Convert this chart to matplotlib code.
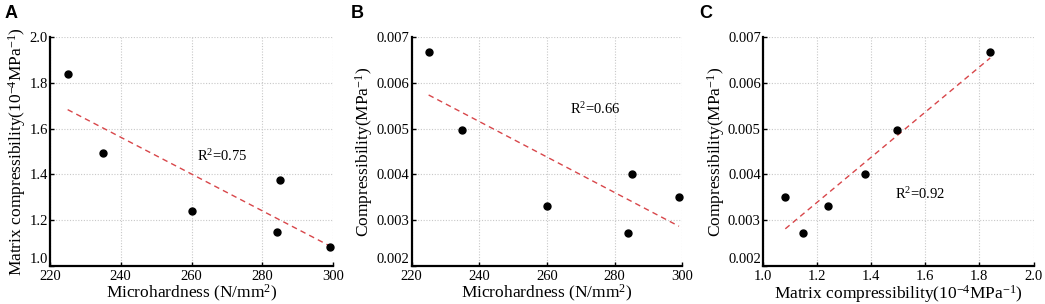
import numpy as np
import matplotlib
matplotlib.use("Agg")
import matplotlib.pyplot as plt

plt.rcParams['font.family'] = ['Liberation Serif', 'DejaVu Serif']
plt.rcParams['mathtext.fontset'] = 'custom'
plt.rcParams['mathtext.rm'] = 'Liberation Serif'
plt.rcParams['mathtext.it'] = 'Liberation Serif:italic'
plt.rcParams['mathtext.bf'] = 'Liberation Serif:bold'

microhardness = [225, 235, 260, 284, 285, 299]
matrix_comp = [1.84, 1.495, 1.24, 1.15, 1.377, 1.083]
compressibility = [0.00667, 0.00496, 0.00330, 0.00273, 0.00402, 0.00351]

panels = [
    dict(label="A", x=microhardness, y=matrix_comp,
         xlim=(220, 300), xticks=[220, 240, 260, 280, 300], xfmt="{:.0f}",
         ylim=(1.0, 2.0), yticks=[1.0, 1.2, 1.4, 1.6, 1.8, 2.0], yfmt="{:.1f}",
         xlabel="Microhardness (N/mm$^{2}$)",
         ylabel="Matrix compressibility(10$^{-4}$MPa$^{-1}$)",
         r2="R$^{2}$=0.75", r2pos=(261.4, 1.48),
         rect=[0.0478, 0.125, 0.271, 0.753], lx=0.004),
    dict(label="B", x=microhardness, y=compressibility,
         xlim=(220, 300), xticks=[220, 240, 260, 280, 300], xfmt="{:.0f}",
         ylim=(0.002, 0.007), yticks=[0.002, 0.003, 0.004, 0.005, 0.006, 0.007], yfmt="{:.3f}",
         xlabel="Microhardness (N/mm$^{2}$)",
         ylabel="Compressibility(MPa$^{-1}$)",
         r2="R$^{2}$=0.66", r2pos=(266.8, 0.00543),
         rect=[0.394, 0.125, 0.259, 0.753], lx=0.336),
    dict(label="C", x=matrix_comp, y=compressibility,
         xlim=(1.0, 2.0), xticks=[1.0, 1.2, 1.4, 1.6, 1.8, 2.0], xfmt="{:.1f}",
         ylim=(0.002, 0.007), yticks=[0.002, 0.003, 0.004, 0.005, 0.006, 0.007], yfmt="{:.3f}",
         xlabel="Matrix compressibility(10$^{-4}$MPa$^{-1}$)",
         ylabel="Compressibility(MPa$^{-1}$)",
         r2="R$^{2}$=0.92", r2pos=(1.487, 0.00357),
         rect=[0.730, 0.125, 0.259, 0.753], lx=0.669),
]

fig = plt.figure(figsize=(10.45, 3.04), dpi=100)

for p in panels:
    ax = fig.add_axes(p["rect"])
    x = np.array(p["x"]); y = np.array(p["y"])
    ax.set_xlim(*p["xlim"]); ax.set_ylim(*p["ylim"])
    ax.set_xticks(p["xticks"]); ax.set_yticks(p["yticks"])
    ax.set_xticklabels([p["xfmt"].format(v) for v in p["xticks"]])
    ax.set_yticklabels([p["yfmt"].format(v) for v in p["yticks"]])
    ax.grid(True, color='#c8c8c8', linestyle=(0, (1, 1.5)), linewidth=0.8)
    ax.set_axisbelow(True)
    for s in ['top', 'right']:
        ax.spines[s].set_visible(False)
    for s in ['left', 'bottom']:
        ax.spines[s].set_linewidth(1.6)
    ax.tick_params(direction='in', length=3, width=1, labelsize=10.5)
    ax.tick_params(axis='y', pad=1.5)
    ax.tick_params(axis='x', pad=3)
    # lift the lowest y tick label slightly so it clears the corner x label
    ax.get_yticklabels()[0].set_verticalalignment('bottom')
    # trend line (least-squares fit of the plotted points)
    k, b = np.polyfit(x, y, 1)
    xs = np.array([x.min(), x.max()])
    ax.plot(xs, k * xs + b, color='#d8464a', linestyle=(0, (4, 3)), linewidth=1.0, zorder=2)
    ax.plot(x, y, 'o', color='black', markersize=5, zorder=3, clip_on=False)
    ax.text(p["r2pos"][0], p["r2pos"][1], p["r2"], fontsize=10.5, va='center', ha='left')
    ax.set_xlabel(p["xlabel"], fontsize=12.5, labelpad=0)
    ax.set_ylabel(p["ylabel"], fontsize=12.5, labelpad=1)
    fig.text(p["lx"], 0.985, p["label"], fontsize=13, fontweight='bold',
             family='Liberation Sans', va='top', ha='left')

fig.savefig("out.png", dpi=100)
